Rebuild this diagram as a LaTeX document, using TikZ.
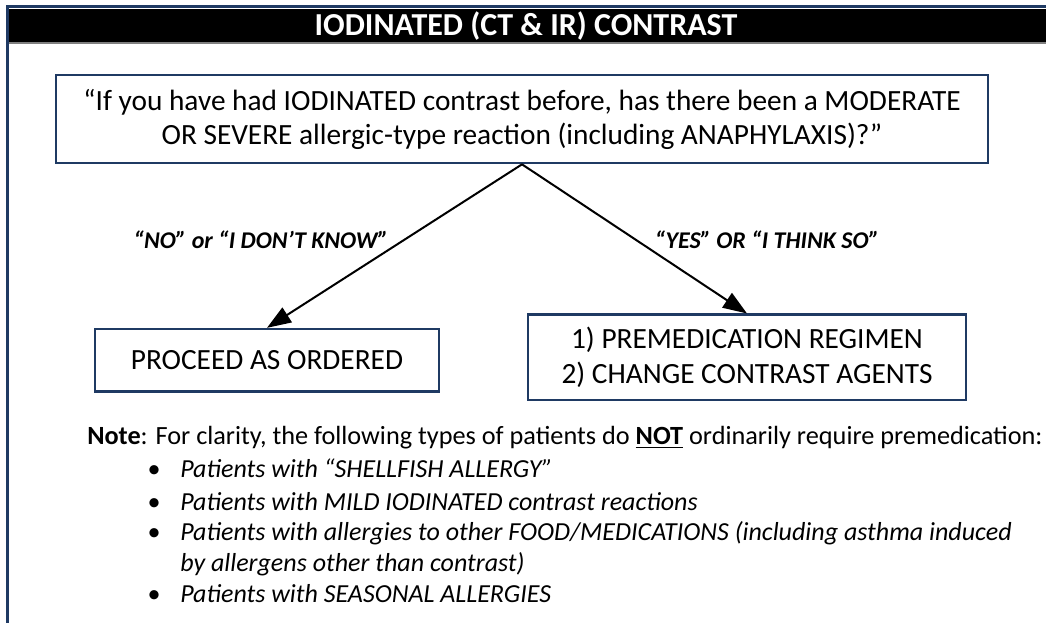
\documentclass[tikz,border=0pt]{standalone}
\usepackage{fontspec}
\setmainfont{Carlito}
\usepackage{tikz}
\usetikzlibrary{arrows.meta, positioning}
\definecolor{frameblue}{HTML}{1F3A63}
\tikzset{%
	qbox/.style={draw=frameblue, line width=2pt, rectangle, align=center,%
		font=\fontsize{22}{25.5}\selectfont, inner sep=0pt},
	ansbox/.style={draw=frameblue, line width=2pt, rectangle, align=center,%
		font=\fontsize{22}{26}\selectfont, inner sep=0pt},
	sel/.style={-{Triangle[length=18pt,width=13pt]}, line width=1.5pt},
	lbl/.style={font=\fontsize{18}{21}\selectfont\bfseries\itshape},
	item/.style={anchor=base west, align=left, inner sep=0pt,%
		font=\fontsize{19.5}{23.25}\selectfont\itshape}
}

\begin{document}
\begin{tikzpicture}[x=0.75pt, y=-0.75pt]
	\useasboundingbox (0,0) rectangle (1046,623);
	\clip (0,0) rectangle (1046,623);
	% frame and title bar
	\fill[black] (7,9) rectangle (1060,43);
	\draw[gray, line width=1pt] (7,43) -- (1060,43);
	\draw[frameblue, line width=2.25pt] (7,640) -- (7,7) -- (1060,7);
	\node[text=white, font=\fontsize{24}{28}\selectfont\bfseries] (title) at (526,26) {IODINATED (CT \& IR) CONTRAST};

	\node[qbox, minimum width=699pt, minimum height=66pt] (quest) at (522,119)
		{``If you have had IODINATED contrast before, has there been a MODERATE\\
		 OR SEVERE allergic-type reaction (including ANAPHYLAXIS)?''};
	\node[ansbox, minimum width=258pt, minimum height=47pt] (proceed) at (267,360.5)
		{PROCEED AS ORDERED};
	\node[ansbox, minimum width=328.5pt, minimum height=64pt] (premed) at (747,357.5)
		{1) PREMEDICATION REGIMEN\\2) CHANGE CONTRAST AGENTS};

	\draw[sel] (quest.south) to (proceed.north);
	\draw[sel] (quest.south) to (premed.north);
	\node[lbl] (nolbl) at (261,240) {``NO'' or ``I DON'T KNOW''};
	\node[lbl] (yeslbl) at (767,240) {``YES'' OR ``I THINK SO''};

	% note and list (second y = baseline of last line)
	\node[anchor=base west, inner sep=0pt, font=\fontsize{19.7}{23}\selectfont] (note) at (87,445)
		{\textbf{Note}: For clarity, the following types of patients do \underline{\textbf{NOT}} ordinarily require premedication:};
	\foreach \y/\ly/\txt [count=\i] in {478/478/{Patients with ``SHELLFISH ALLERGY''},
		510/510/{Patients with MILD IODINATED contrast reactions},
		540/571/{Patients with allergies to other FOOD/MEDICATIONS (including asthma induced\\by allergens other than contrast)},
		602/602/{Patients with SEASONAL ALLERGIES}} {
		\node[item] (bul\i) at (147,\y) {\textbullet};
		\node[item] (it\i) at (180,\ly) {\txt};
	}
\end{tikzpicture}
\end{document}
